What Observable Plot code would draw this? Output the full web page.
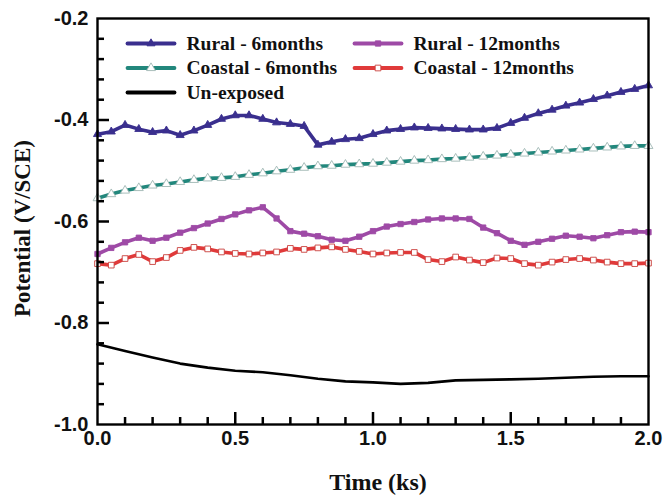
<!DOCTYPE html>
<html>
<head>
<meta charset="utf-8">
<script src="https://cdn.jsdelivr.net/npm/d3@7"></script>
<script src="https://cdn.jsdelivr.net/npm/@observablehq/plot@0.6"></script>
<style>
  html, body { margin: 0; padding: 0; background: #fff; }
  #chart svg { display: block; }
</style>
</head>
<body>
<div id="chart"></div>
<script>
// Open-circuit potential vs. time, sampled every 0.05 ks (marked series)
const timeMarked = [0.00, 0.05, 0.10, 0.15, 0.20, 0.25, 0.30, 0.35, 0.40, 0.45,
                    0.50, 0.55, 0.60, 0.65, 0.70, 0.75, 0.80, 0.85, 0.90, 0.95,
                    1.00, 1.05, 1.10, 1.15, 1.20, 1.25, 1.30, 1.35, 1.40, 1.45,
                    1.50, 1.55, 1.60, 1.65, 1.70, 1.75, 1.80, 1.85, 1.90, 1.95, 2.00];

const rural6 = [-0.428, -0.423, -0.410, -0.418, -0.424, -0.421, -0.430, -0.421, -0.410, -0.398,
                -0.391, -0.391, -0.398, -0.405, -0.408, -0.412, -0.449, -0.443, -0.438, -0.436,
                -0.428, -0.421, -0.418, -0.415, -0.416, -0.417, -0.418, -0.419, -0.419, -0.416,
                -0.406, -0.396, -0.387, -0.380, -0.372, -0.366, -0.359, -0.352, -0.345, -0.339, -0.332];

const coastal6 = [-0.554, -0.546, -0.539, -0.534, -0.529, -0.526, -0.522, -0.518, -0.515, -0.514,
                  -0.512, -0.508, -0.505, -0.501, -0.498, -0.494, -0.491, -0.490, -0.488, -0.487,
                  -0.486, -0.484, -0.482, -0.480, -0.479, -0.477, -0.476, -0.474, -0.472, -0.470,
                  -0.468, -0.466, -0.464, -0.462, -0.460, -0.458, -0.456, -0.454, -0.452, -0.451, -0.451];

const rural12 = [-0.664, -0.652, -0.641, -0.632, -0.638, -0.632, -0.622, -0.613, -0.604, -0.595,
                 -0.586, -0.578, -0.572, -0.594, -0.619, -0.624, -0.629, -0.636, -0.638, -0.630,
                 -0.619, -0.610, -0.605, -0.601, -0.596, -0.594, -0.594, -0.595, -0.612, -0.623,
                 -0.638, -0.646, -0.640, -0.634, -0.628, -0.630, -0.633, -0.627, -0.621, -0.620, -0.621];

const coastal12 = [-0.683, -0.686, -0.673, -0.665, -0.679, -0.671, -0.657, -0.651, -0.654, -0.660,
                   -0.663, -0.664, -0.662, -0.660, -0.653, -0.655, -0.652, -0.650, -0.655, -0.659,
                   -0.664, -0.662, -0.661, -0.661, -0.675, -0.679, -0.670, -0.676, -0.681, -0.672,
                   -0.673, -0.683, -0.686, -0.680, -0.675, -0.673, -0.676, -0.680, -0.683, -0.683, -0.682];

// Un-exposed reference electrode, plain line
const timeBare = [0.0, 0.1, 0.2, 0.3, 0.4, 0.5, 0.6, 0.7, 0.8, 0.9, 1.0,
                  1.1, 1.2, 1.3, 1.4, 1.5, 1.6, 1.7, 1.8, 1.9, 2.0];
const unexposed = [-0.842, -0.855, -0.868, -0.880, -0.888, -0.894, -0.897, -0.903, -0.910, -0.915, -0.917,
                   -0.920, -0.918, -0.913, -0.912, -0.911, -0.910, -0.908, -0.906, -0.905, -0.905];

const seriesNames = ["Rural - 6months", "Rural - 12months", "Coastal - 6months", "Coastal - 12months", "Un-exposed"];

// Axis tick labels
const xTickLabels = [0.0, 0.5, 1.0, 1.5, 2.0];
const yTickLabels = [-1.0, -0.8, -0.6, -0.4, -0.2];

// Series drawing styles
const styles = {
  "Rural - 6months":   {t: timeMarked, v: rural6,    color: "#3a2f8e", symbol: "triangle", fill: "#3a2f8e", mstroke: "#3a2f8e", r: 3.0},
  "Rural - 12months":  {t: timeMarked, v: rural12,   color: "#9e4aa6", symbol: "square",   fill: "#9e4aa6", mstroke: "#9e4aa6", r: 3.0},
  "Coastal - 6months": {t: timeMarked, v: coastal6,  color: "#22877c", symbol: "triangle", fill: "#ffffff", mstroke: "#9fb7b3", r: 3.3},
  "Coastal - 12months":{t: timeMarked, v: coastal12, color: "#e03a3a", symbol: "square",   fill: "#ffffff", mstroke: "#c9403c", r: 3.2},
  "Un-exposed":        {t: timeBare,   v: unexposed, color: "#000000", symbol: null}
};

const rows = name => styles[name].t.map((t, i) => ({t, v: styles[name].v[i]}));

// Straight stroke shape for the legend swatches
const swatchShape = {draw(ctx, l) { ctx.moveTo(0, 0); ctx.lineTo(0, -l); }};

const xMinor = [0.1, 0.2, 0.3, 0.4, 0.6, 0.7, 0.8, 0.9, 1.1, 1.2, 1.3, 1.4, 1.6, 1.7, 1.8, 1.9];
const xMajor = [0.5, 1.0, 1.5];
const yMinor = [-0.96, -0.92, -0.88, -0.84, -0.76, -0.72, -0.68, -0.64,
                -0.56, -0.52, -0.48, -0.44, -0.36, -0.32, -0.28, -0.24];
const yMajor = [-0.8, -0.6, -0.4];

const serif = "'Liberation Serif', 'Times New Roman', serif";
const sans = "'Liberation Sans', Arial, sans-serif";

const W = 666, H = 495;
const M = {left: 97, right: 18, top: 18, bottom: 71};
const frameW = W - M.left - M.right;
const frameH = H - M.top - M.bottom;

const marks = [];

// Data lines and markers
for (const name of seriesNames) {
  const s = styles[name];
  marks.push(Plot.line(rows(name), {x: "t", y: "v", stroke: s.color, strokeWidth: name === "Un-exposed" ? 2.6 : 3.6, curve: "linear"}));
}
for (const name of seriesNames) {
  const s = styles[name];
  if (!s.symbol) continue;
  marks.push(Plot.dot(rows(name), {x: "t", y: "v", symbol: s.symbol, r: s.r, fill: s.fill, stroke: s.mstroke, strokeWidth: 0.9}));
}

// Legend (inside the frame, two columns)
const legendPos = {
  "Rural - 6months":    {col: 0, row: 0},
  "Rural - 12months":   {col: 1, row: 0},
  "Coastal - 6months":  {col: 0, row: 1},
  "Coastal - 12months": {col: 1, row: 1},
  "Un-exposed":         {col: 0, row: 2}
};
for (const name of seriesNames) {
  const s = styles[name];
  const p = legendPos[name];
  const lx = p.col === 0 ? 30 : 257;
  const ly = 25 + p.row * 24.5;
  marks.push(Plot.vector([name], {frameAnchor: "top-left", dx: lx, dy: ly, rotate: 90, anchor: "start", length: 47,
    shape: swatchShape, stroke: s.color, strokeWidth: 3.8}));
  if (s.symbol) {
    marks.push(Plot.dot([name], {frameAnchor: "top-left", dx: lx + 23.5, dy: ly, symbol: s.symbol, r: s.r,
      fill: s.fill, stroke: s.mstroke, strokeWidth: 0.9}));
  }
  marks.push(Plot.text([name], {frameAnchor: "top-left", dx: lx + 59, dy: ly, text: d => d,
    textAnchor: "start", lineAnchor: "middle",
    fontFamily: serif, fontWeight: "bold", fontSize: 19.5, fill: "#111"}));
}

// Tick labels
marks.push(Plot.axisX({ticks: xTickLabels, tickSize: 0, tickPadding: 6, tickFormat: d => d.toFixed(1), label: null,
  fontFamily: sans, fontWeight: "bold", fontSize: 20, fill: "#111"}));
marks.push(Plot.axisY({ticks: yTickLabels, tickSize: 0, tickPadding: 9, tickFormat: d => d.toFixed(1), label: null,
  fontFamily: sans, fontWeight: "bold", fontSize: 20, fill: "#111"}));

// Axis titles
marks.push(Plot.text(["Time (ks)"], {frameAnchor: "bottom", dx: 5, dy: 58, text: d => d,
  textAnchor: "middle", lineAnchor: "middle",
  fontFamily: serif, fontWeight: "bold", fontSize: 24, fill: "#111"}));
marks.push(Plot.text(["Potential (V/SCE)"], {frameAnchor: "left", dx: -75, dy: 7, rotate: -90, text: d => d,
  textAnchor: "middle", lineAnchor: "middle",
  fontFamily: serif, fontWeight: "bold", fontSize: 23, fill: "#111"}));

// Inward axis ticks: full-span rules cut down by insets to a short stub at the axis
marks.push(Plot.ruleX(xMinor, {x: d => d, insetTop: frameH - 7, stroke: "#000", strokeWidth: 2.5}));
marks.push(Plot.ruleX(xMajor, {x: d => d, insetTop: frameH - 12, stroke: "#000", strokeWidth: 2.5}));
marks.push(Plot.ruleY(yMinor, {y: d => d, insetRight: frameW - 7, stroke: "#000", strokeWidth: 2.5}));
marks.push(Plot.ruleY(yMajor, {y: d => d, insetRight: frameW - 12, stroke: "#000", strokeWidth: 2.5}));

marks.push(Plot.frame({stroke: "black", strokeWidth: 2.4}));

const chart = Plot.plot({
  width: W,
  height: H,
  marginLeft: M.left,
  marginRight: M.right,
  marginTop: M.top,
  marginBottom: M.bottom,
  x: {domain: [0, 2]},
  y: {domain: [-1, -0.2]},
  marks
});
document.getElementById("chart").appendChild(chart);
</script>
</body>
</html>
